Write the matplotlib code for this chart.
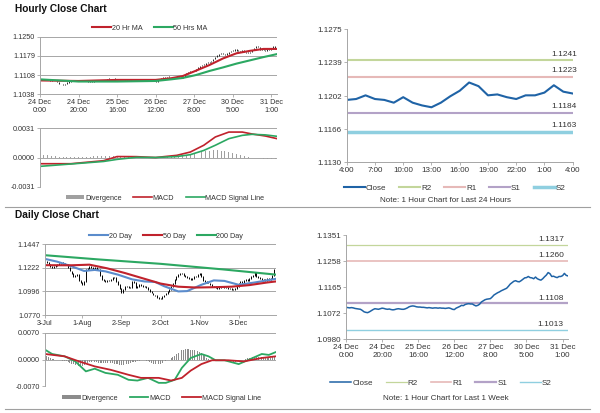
import numpy as np
import pandas as pd
import matplotlib
matplotlib.use('Agg')
import matplotlib.pyplot as plt
from matplotlib.lines import Line2D

plt.rcParams['font.family'] = ['Liberation Sans', 'DejaVu Sans']

# ---- hourly data: 24 Dec 0:00 -> 31 Dec 4:00 (weekend skipped) ----
hourly_close = [
    1.1093, 1.1092, 1.1091, 1.1092, 1.1091, 1.1089, 1.1088, 1.1087, 1.1086, 1.1082,
    1.1077, 1.1075, 1.1074, 1.1077, 1.1081, 1.1085, 1.1088, 1.1087, 1.1086, 1.1088,
    1.1090, 1.1089, 1.1087, 1.1086, 1.1087, 1.1085, 1.1084, 1.1085, 1.1087, 1.1088,
    1.1087, 1.1086, 1.1086, 1.1088, 1.1091, 1.1095, 1.1097, 1.1098, 1.1097, 1.1095,
    1.1094, 1.1094, 1.1093, 1.1093, 1.1092, 1.1091, 1.1092, 1.1091, 1.1090, 1.1091,
    1.1091, 1.1090, 1.1091, 1.1090, 1.1090, 1.1089, 1.1090, 1.1091, 1.1089, 1.1086,
    1.1085, 1.1090, 1.1093, 1.1096, 1.1100, 1.1099, 1.1103, 1.1105, 1.1106, 1.1105,
    1.1105, 1.1101, 1.1098, 1.1100, 1.1104, 1.1112, 1.1116, 1.1120, 1.1122, 1.1123,
    1.1124, 1.1130, 1.1137, 1.1141, 1.1145, 1.1148, 1.1152, 1.1155, 1.1158, 1.1161,
    1.1168, 1.1176, 1.1181, 1.1186, 1.1188, 1.1185, 1.1184, 1.1188, 1.1193, 1.1198,
    1.1199, 1.1203, 1.1199, 1.1198, 1.1195, 1.1201, 1.1195, 1.1192, 1.1190, 1.1195,
    1.1202, 1.1208, 1.1217, 1.1213, 1.1203, 1.1204, 1.1201, 1.1199, 1.1203, 1.1203,
    1.1206, 1.1214, 1.1207, 1.1205]
hour_ticks = [0, 20, 40, 60, 80, 100, 120]
hour_tick_labels = ['24 Dec\n0:00', '24 Dec\n20:00', '25 Dec\n16:00', '26 Dec\n12:00',
                    '27 Dec\n8:00', '30 Dec\n5:00', '31 Dec\n1:00']

ma_hours = [0, 20, 40, 60, 68, 74, 81, 88, 95, 102, 109, 116, 123]
ma20_hr = [1.1089, 1.1087, 1.1091, 1.1091, 1.1097, 1.1105, 1.1125, 1.1146, 1.1170,
           1.1189, 1.1198, 1.1205, 1.1205]
ma50_hr = [1.1093, 1.1085, 1.1085, 1.1087, 1.1093, 1.1098, 1.1109, 1.1124, 1.1137,
           1.1151, 1.1163, 1.1175, 1.1186]

macd_hours = [0, 16, 33, 40, 50, 60, 71, 78, 85, 91, 98, 105, 110, 117, 123]
macd_hr = [-0.00066, -0.00066, -0.00034, 0.00010, 0.00009, 0.0, 0.00023, 0.00058,
           0.0013, 0.00218, 0.0027, 0.0027, 0.0025, 0.00228, 0.0020]
signal_hr = [-0.00094, -0.00069, -0.00042, -0.00020, 0.00002, 0.0, 0.0001, 0.0003,
             0.00075, 0.0013, 0.0020, 0.00235, 0.00246, 0.0024, 0.00225]
div_hours = list(range(0, 124, 2))
div_hr = [0.00030, 0.00028, 0.00025, 0.00020, 0.00015, 0.00010, 0.00006, 0.00004,
          0.00003, 0.00004, 0.00005, 0.00006, 0.00008, 0.00010, 0.00012, 0.00014,
          0.00016, 0.00018, 0.00018, 0.00016, 0.00012, 0.00008, 0.00005, 0.00003,
          0.00001, 0.0, -0.00001, -0.00002, -0.00003, -0.00004, -0.00005, -0.00002,
          0.00002, 0.00006, 0.00010, 0.00014, 0.00018, 0.00022, 0.00028, 0.00036,
          0.00045, 0.00055, 0.00063, 0.00069, 0.00073, 0.00076, 0.00076, 0.00072,
          0.00066, 0.00058, 0.00048, 0.00036, 0.00024, 0.00012, 0.00004, -0.00002,
          -0.00006, -0.00009, -0.00012, -0.00014, -0.00015, -0.00016]

# last 24 hours chart
day_tick_labels = ['4:00', '7:00', '10:00', '13:00', '16:00', '19:00', '22:00', '1:00', '4:00']
levels_24h = {'R2': 1.1241, 'R1': 1.1223, 'S1': 1.1184, 'S2': 1.1163}
levels_week = {'R2': 1.1317, 'R1': 1.1260, 'S1': 1.1108, 'S2': 1.1013}

# ---- daily data: 3 Jul -> 31 Dec ----
daily_dates = pd.bdate_range('2019-07-03', '2019-12-31')
daily_close = [
    1.1285, 1.1270, 1.1250, 1.1235, 1.1222, 1.1230, 1.1245, 1.1255, 1.1262, 1.1270,
    1.1265, 1.1255, 1.1248, 1.1225, 1.1190, 1.1165, 1.1140, 1.1150, 1.1155, 1.1100,
    1.1080, 1.1060, 1.1090, 1.1200, 1.1215, 1.1230, 1.1225, 1.1215, 1.1220, 1.1205,
    1.1200, 1.1150, 1.1108, 1.1095, 1.1090, 1.1100, 1.1098, 1.1110, 1.1125, 1.1130,
    1.1090, 1.1060, 1.1020, 1.0985, 1.1015, 1.1045, 1.1040, 1.1030, 1.1035, 1.1090,
    1.1080, 1.1030, 1.1045, 1.1060, 1.1050, 1.1040, 1.1045, 1.1030, 1.1010, 1.0995,
    1.0980, 1.0960, 1.0955, 1.0940, 1.0930, 1.0925, 1.0945, 1.0960, 1.0975, 1.0995,
    1.1010, 1.1045, 1.1070, 1.1105, 1.1135, 1.1155, 1.1165, 1.1170, 1.1150, 1.1140,
    1.1130, 1.1120, 1.1105, 1.1115, 1.1135, 1.1140, 1.1160, 1.1170, 1.1140, 1.1100,
    1.1090, 1.1080, 1.1075, 1.1060, 1.1045, 1.1040, 1.1035, 1.1025, 1.1030, 1.1040,
    1.1045, 1.1035, 1.1030, 1.1025, 1.1020, 1.1015, 1.1010, 1.1020, 1.1045, 1.1075,
    1.1090, 1.1080, 1.1100, 1.1105, 1.1095, 1.1120, 1.1140, 1.1150, 1.1175, 1.1135,
    1.1125, 1.1115, 1.1110, 1.1105, 1.1100, 1.1115, 1.1110, 1.1120, 1.1150, 1.1200,
    1.1215]
daily_tick_dates = ['2019-07-03', '2019-08-01', '2019-09-02', '2019-10-02', '2019-11-01', '2019-12-03']
daily_tick_labels = ['3-Jul', '1-Aug', '2-Sep', '2-Oct', '1-Nov', '3-Dec']

ma20_days = [0, 7, 15, 22, 28, 34, 41, 49, 56, 62, 67, 75, 80, 88, 95, 101, 109, 118, 130]
ma20_d = [1.1305, 1.1278, 1.1234, 1.1190, 1.1200, 1.1186, 1.1155, 1.1110, 1.1090, 1.1085,
          1.1045, 1.0995, 1.0998, 1.1058, 1.1100, 1.1095, 1.1058, 1.1080, 1.1115]
ma50_days = [0, 15, 25, 35, 45, 55, 65, 75, 85, 95, 105, 115, 125, 130]
ma50_d = [1.1245, 1.1244, 1.1250, 1.1215, 1.1170, 1.1120, 1.1070, 1.1040, 1.1032, 1.1035,
          1.1040, 1.1055, 1.1080, 1.1090]
ma200_days = [0, 30, 65, 100, 130]
ma200_d = [1.1340, 1.1300, 1.1258, 1.1205, 1.1155]

macd_days = [0, 4, 11, 17, 23, 28, 34, 41, 47, 52, 58, 64, 68, 73, 77, 82, 88, 92, 96,
             101, 109, 114, 122, 126, 130]
macd_d = [0.00256, 0.00144, 0.00083, -0.00047, -0.0031, -0.0024, -0.0035, -0.0040, -0.0053,
          -0.0055, -0.0048, -0.0061, -0.0061, -0.0053, -0.0022, 0.0004, 0.00144, 0.00083,
          -0.0002, -0.0002, -0.0012, -0.0002, 0.00144, 0.0012, 0.00196]
signal_days = [0, 11, 19, 28, 37, 47, 54, 64, 71, 77, 82, 88, 94, 103, 112, 122, 130]
signal_d = [0.00144, 0.00083, -0.00047, -0.0018, -0.0027, -0.0040, -0.0048, -0.0048,
            -0.0055, -0.0048, -0.0029, -0.0012, -0.0002, -0.0002, -0.0005, 0.0004, 0.00083]
div_d = [
    0.0010, 0.0008, 0.0006, 0.0004, 0.0002, 0.0001, 0.0000, -0.0001, -0.0002, -0.0002,
    -0.0003, -0.0004, -0.0005, -0.0007, -0.0009, -0.0011, -0.0013, -0.0015, -0.0016, -0.0017,
    -0.0018, -0.0017, -0.0015, -0.0012, -0.0009, -0.0007, -0.0006, -0.0005, -0.0006, -0.0007,
    -0.0008, -0.0009, -0.0010, -0.0010, -0.0009, -0.0008, -0.0008, -0.0009, -0.0010, -0.0011,
    -0.0012, -0.0013, -0.0014, -0.0015, -0.0015, -0.0014, -0.0013, -0.0011, -0.0009, -0.0007,
    -0.0006, -0.0006, -0.0005, -0.0004, -0.0003, -0.0002, -0.0002, -0.0003, -0.0005, -0.0007,
    -0.0009, -0.0011, -0.0013, -0.0014, -0.0013, -0.0011, -0.0008, -0.0006, -0.0004, -0.0002,
    0.0000, 0.0003, 0.0006, 0.0010, 0.0014, 0.0018, 0.0021, 0.0024, 0.0026, 0.0028,
    0.0028, 0.0027, 0.0026, 0.0026, 0.0025, 0.0024, 0.0022, 0.0019, 0.0016, 0.0012,
    0.0008, 0.0005, 0.0002, 0.0000, -0.0001, -0.0001, -0.0001, 0.0000, 0.0000, 0.0000,
    0.0000, -0.0001, -0.0002, -0.0003, -0.0004, -0.0005, -0.0006, -0.0006, -0.0005, -0.0004,
    -0.0002, 0.0000, 0.0001, 0.0002, 0.0003, 0.0004, 0.0005, 0.0006, 0.0007, 0.0007,
    0.0007, 0.0006, 0.0006, 0.0005, 0.0005, 0.0004, 0.0004, 0.0005, 0.0006, 0.0007,
    0.0008]

RED = '#c0222c'
GREEN = '#2ca862'
BLUE = '#5b8ccc'
CLOSE = '#1f63a6'
LVL_COL = {'R2': '#c3d69b', 'R1': '#e6b9b8', 'S1': '#b3a2c7', 'S2': '#8fcfe0'}
GRID = '#a6a6a6'
TXT = '#333333'
FS = 5.2


def style(ax, grid=False):
    for s in ['top', 'right']:
        ax.spines[s].set_visible(False)
    for s in ['left', 'bottom']:
        ax.spines[s].set_color(GRID)
        ax.spines[s].set_linewidth(0.7)
    ax.tick_params(labelsize=FS, colors=TXT, length=2, width=0.6, pad=1.5)
    ax.tick_params(color=GRID)
    if grid:
        ax.yaxis.grid(True, color=GRID, lw=0.7)
        ax.set_axisbelow(True)


def leg(ax, handles, labels, x, y, ncol, fs=FS, **kw):
    l = ax.legend(handles, labels, loc='center', bbox_to_anchor=(x, y),
                  bbox_transform=fig.transFigure, ncol=ncol, frameon=False, fontsize=fs,
                  handlelength=2.6, handletextpad=0.1, columnspacing=1.6, borderpad=0, **kw)
    for t in l.get_texts():
        t.set_color(TXT)
    return l


fig = plt.figure(figsize=(6, 4.13), dpi=100)
H = 413.0

def axes_px(x0, y0, x1, y1):
    return fig.add_axes([x0 / 600, (H - y1) / H, (x1 - x0) / 600, (y1 - y0) / H])

hx = np.arange(len(hourly_close))
hc = np.array(hourly_close)

# hourly price
ax1 = axes_px(40, 36.7, 277, 94.3)
style(ax1, grid=True)
ax1.vlines(hx[1:], np.minimum(hc[:-1], hc[1:]) - 0.00005, np.maximum(hc[:-1], hc[1:]) + 0.00005,
           color='black', lw=0.6)
l20, = ax1.plot(ma_hours, ma20_hr, color=RED, lw=1.5)
l50, = ax1.plot(ma_hours, ma50_hr, color=GREEN, lw=1.5)
ax1.set_xlim(0, 123)
ax1.set_ylim(1.1038, 1.1250)
ax1.set_yticks([1.1038, 1.1108, 1.1179, 1.1250])
ax1.set_yticklabels(['1.1038', '1.1108', '1.1179', '1.1250'])
ax1.set_xticks(hour_ticks)
ax1.set_xticklabels(hour_tick_labels, linespacing=1.25)
leg(ax1, [l20, l50], ['20 Hr MA', '50 Hrs MA'], 0.25, 1 - 28 / H, 2)

# hourly macd
ax2 = axes_px(40, 128.3, 277, 186.7)
style(ax2, grid=True)
bd = ax2.bar(div_hours, div_hr, width=0.5, color='#a0a0a0')
lm, = ax2.plot(macd_hours, macd_hr, color=RED, lw=1.2)
ls, = ax2.plot(macd_hours, signal_hr, color=GREEN, lw=1.2)
ax2.set_xlim(0, 123)
ax2.set_ylim(-0.0031, 0.0031)
ax2.set_yticks([-0.0031, 0.0, 0.0031])
ax2.set_yticklabels(['-0.0031', '0.0000', '0.0031'])
ax2.set_xticks([])
ax2.spines['bottom'].set_visible(False)
leg(ax2, [bd, lm, ls], ['Divergence', 'MACD', 'MACD Signal Line'], 0.275, 1 - 198 / H, 3,
    handleheight=0.5)

# last 24 hours
c24 = hourly_close[-25:]
ax3 = axes_px(346.7, 29.3, 572.7, 162.3)
style(ax3)
lev_lines = []
for k, lw in zip(['R2', 'R1', 'S1', 'S2'], [1.5, 1.5, 1.5, 2.5]):
    v = levels_24h[k]
    ln, = ax3.plot([0, 24], [v, v], color=LVL_COL[k], lw=lw)
    lev_lines.append(ln)
    ax3.annotate('%.4f' % v, xy=(24, v), xytext=(3, 2), textcoords='offset points',
                 ha='right', va='bottom', fontsize=6, color=TXT)
lc, = ax3.plot(range(25), c24, color=CLOSE, lw=1.5)
ax3.set_xlim(0, 24)
ax3.set_ylim(1.1130, 1.1275)
ax3.set_yticks([1.1130, 1.1166, 1.1202, 1.1239, 1.1275])
ax3.set_yticklabels(['1.1130', '1.1166', '1.1202', '1.1239', '1.1275'])
ax3.set_xticks(range(0, 25, 3))
ax3.set_xticklabels(day_tick_labels)
ax3.tick_params(labelsize=5.8)
leg(ax3, [lc] + lev_lines, ['Close', 'R2', 'R1', 'S1', 'S2'], 0.758, 1 - 188 / H, 5, fs=5.8)
fig.text(0.742, 1 - 201 / H, 'Note: 1 Hour Chart for Last 24 Hours', ha='center', va='center',
         fontsize=5.8, color=TXT)

# daily price
dx = np.arange(len(daily_close))
dc = np.array(daily_close)
ax4 = axes_px(45, 244, 276, 315)
style(ax4, grid=True)
ax4.vlines(dx[1:], np.minimum(dc[:-1], dc[1:]) - 0.0004, np.maximum(dc[:-1], dc[1:]) + 0.0004,
           color='black', lw=0.7)
d20, = ax4.plot(ma20_days, ma20_d, color=BLUE, lw=1.5)
d50, = ax4.plot(ma50_days, ma50_d, color=RED, lw=1.5)
d200, = ax4.plot(ma200_days, ma200_d, color=GREEN, lw=1.5)
ax4.set_xlim(0, len(daily_close) - 1)
ax4.set_ylim(1.0770, 1.1447)
ax4.set_yticks([1.0770, 1.0996, 1.1222, 1.1447])
ax4.set_yticklabels(['1.0770', '1.0996', '1.1222', '1.1447'])
ax4.set_xticks(daily_dates.get_indexer(pd.to_datetime(daily_tick_dates)))
ax4.set_xticklabels(daily_tick_labels)
leg(ax4, [d20, d50, d200], ['20 Day', '50 Day', '200 Day'], 0.277, 1 - 236 / H, 3)

# daily macd
ax5 = axes_px(45, 332.7, 276, 386.3)
style(ax5, grid=True)
bd2 = ax5.bar(dx, div_d, width=0.5, color='#8c8c8c')
m2, = ax5.plot(macd_days, macd_d, color=GREEN, lw=1.3)
s2, = ax5.plot(signal_days, signal_d, color=RED, lw=1.3)
ax5.set_xlim(0, len(daily_close) - 1)
ax5.set_ylim(-0.0070, 0.0070)
ax5.set_yticks([-0.0070, 0.0, 0.0070])
ax5.set_yticklabels(['-0.0070', '0.0000', '0.0070'])
ax5.set_xticks([])
ax5.spines['bottom'].set_visible(False)
leg(ax5, [bd2, m2, s2], ['Divergence', 'MACD', 'MACD Signal Line'], 0.269, 1 - 398 / H, 3,
    handleheight=0.5)

# last week
ax6 = axes_px(346, 235, 568, 339)
style(ax6)
lev_lines2 = []
for k, lw in zip(['R2', 'R1', 'S1', 'S2'], [0.9, 1.2, 1.6, 1.0]):
    v = levels_week[k]
    ln, = ax6.plot([0, 123], [v, v], color=LVL_COL[k], lw=lw)
    lev_lines2.append(ln)
    ax6.annotate('%.4f' % v, xy=(123, v), xytext=(-3, 1), textcoords='offset points',
                 ha='right', va='bottom', fontsize=6, color=TXT)
lc2, = ax6.plot(hx, hourly_close, color=CLOSE, lw=1.1)
ax6.set_xlim(0, 123)
ax6.set_ylim(1.0980, 1.1351)
ax6.set_yticks([1.0980, 1.1072, 1.1165, 1.1258, 1.1351])
ax6.set_yticklabels(['1.0980', '1.1072', '1.1165', '1.1258', '1.1351'])
ax6.set_xticks(hour_ticks)
ax6.set_xticklabels(hour_tick_labels, linespacing=1.2)
ax6.tick_params(labelsize=5.8)
leg(ax6, [lc2] + lev_lines2, ['Close', 'R2', 'R1', 'S1', 'S2'], 0.735, 1 - 383 / H, 5, fs=5.8)
fig.text(0.7425, 1 - 398 / H, 'Note: 1 Hour Chart for Last 1 Week', ha='center', va='center',
         fontsize=5.8, color=TXT)

# titles and separators
fig.text(15 / 600, 1 - 9 / H, 'Hourly Close Chart', fontsize=7.3, fontweight='bold',
         va='center', color='#111111')
fig.text(15 / 600, 1 - 215 / H, 'Daily Close Chart', fontsize=7.3, fontweight='bold',
         va='center', color='#111111')
for yy in [207, 409]:
    fig.add_artist(Line2D([5 / 600, 590 / 600], [1 - yy / H, 1 - yy / H], color='#a0a0a0', lw=0.8))

fig.savefig('out.png', dpi=100, facecolor='white')
